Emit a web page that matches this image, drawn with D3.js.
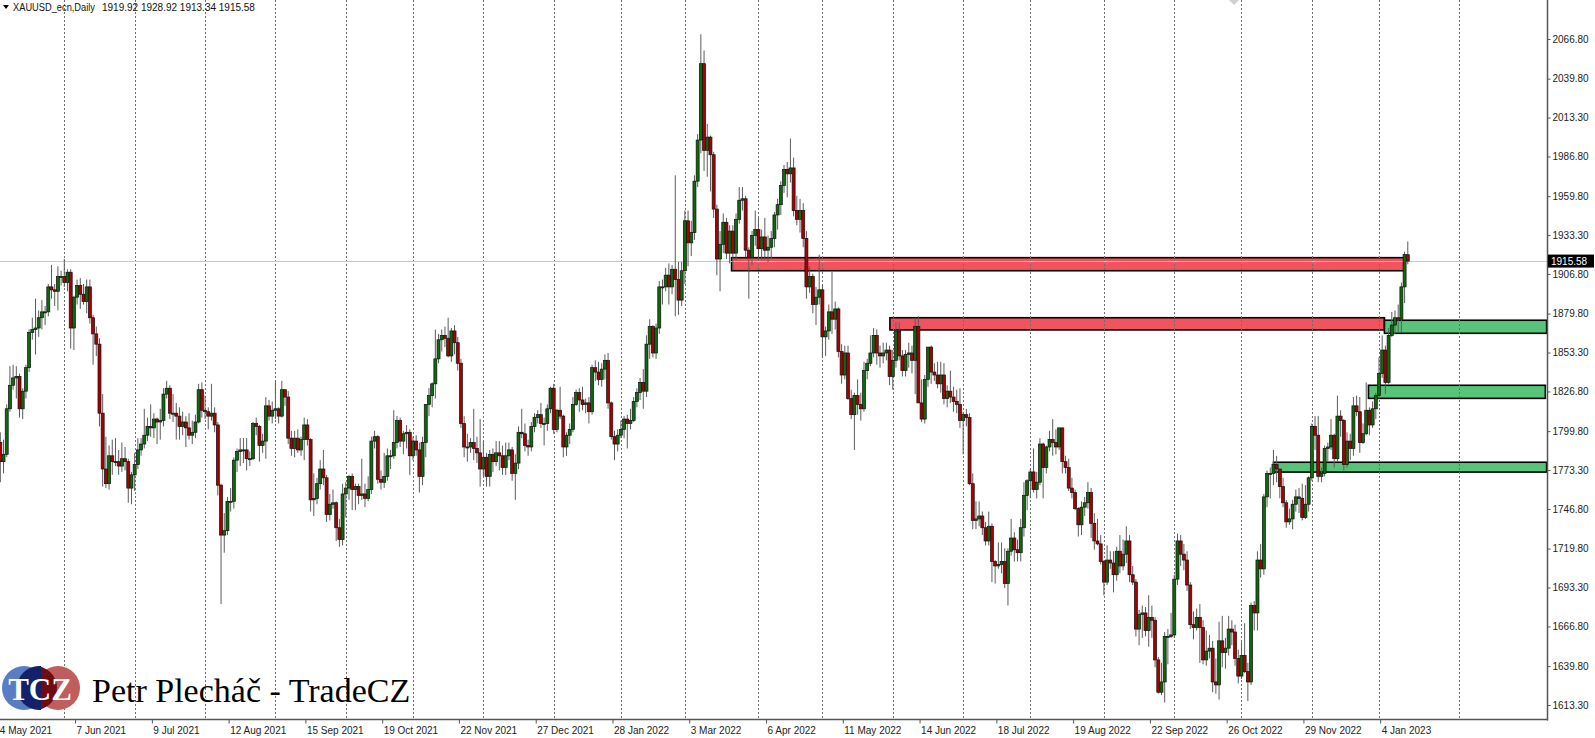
<!DOCTYPE html>
<html><head><meta charset="utf-8">
<script src="https://cdn.jsdelivr.net/npm/d3@7"></script>
<style>
body{margin:0;background:#fff;overflow:hidden}
svg{display:block}
</style>
</head><body>
<svg id="chart" width="1595" height="738"></svg>
<script>
// ---------- DATA: daily candles [open, high, low, close] by month ----------
const may2021=[[1792,1799,1765,1779],[1779,1794,1771,1784],[1784,1818,1782,1815],[1815,1844,1813,1831],[1831,1845,1828,1836],[1836,1844,1822,1837],[1837,1839,1809,1815],[1815,1829,1808,1827],[1827,1845,1822,1843],[1843,1869,1840,1867],[1867,1877,1862,1869],[1869,1890,1852,1870],[1870,1882,1864,1877],[1877,1889,1869,1881],[1881,1885,1872,1881],[1881,1900,1878,1898],[1898,1913,1890,1896],[1896,1900,1885,1895],[1895,1912,1882,1905],[1905,1909,1899,1905]];
const jun2021=[[1905,1917,1898,1901],[1901,1910,1895,1908],[1908,1910,1856,1870],[1870,1892,1855,1891],[1891,1903,1886,1899],[1899,1904,1883,1893],[1893,1900,1886,1888],[1888,1903,1880,1898],[1898,1903,1873,1877],[1877,1879,1845,1866],[1866,1871,1851,1859],[1859,1863,1803,1812],[1812,1825,1762,1774],[1774,1796,1761,1764],[1764,1790,1760,1783],[1783,1794,1770,1779],[1779,1795,1776,1779],[1779,1787,1770,1776],[1776,1792,1772,1781],[1781,1789,1773,1779],[1779,1781,1751,1761],[1761,1772,1750,1770]];
const jul2021=[[1770,1785,1759,1777],[1777,1795,1774,1787],[1787,1795,1783,1791],[1791,1815,1788,1797],[1797,1809,1793,1803],[1803,1818,1796,1802],[1802,1812,1795,1808],[1808,1809,1791,1806],[1806,1815,1794,1807],[1807,1829,1803,1825],[1825,1834,1822,1829],[1829,1831,1808,1812],[1812,1825,1806,1812],[1812,1819,1794,1810],[1810,1816,1794,1803],[1803,1813,1797,1806],[1806,1810,1789,1802],[1802,1812,1794,1797],[1797,1807,1791,1799],[1799,1811,1795,1806],[1806,1832,1805,1828],[1828,1833,1809,1814]];
const aug2021=[[1814,1824,1808,1813],[1813,1816,1801,1810],[1810,1832,1807,1812],[1812,1816,1799,1804],[1804,1806,1756,1763],[1763,1764,1682,1729],[1729,1744,1717,1732],[1732,1755,1729,1752],[1752,1761,1745,1752],[1752,1782,1747,1780],[1780,1788,1772,1786],[1786,1795,1776,1787],[1787,1795,1778,1787],[1787,1795,1773,1781],[1781,1786,1776,1781],[1781,1806,1780,1805],[1805,1809,1797,1803],[1803,1804,1779,1790],[1790,1798,1785,1793],[1793,1823,1781,1817],[1817,1821,1807,1810],[1810,1820,1805,1814]];
const sep2021=[[1814,1834,1808,1815],[1815,1816,1805,1810],[1810,1834,1809,1828],[1828,1828,1817,1823],[1823,1827,1791,1795],[1795,1800,1783,1788],[1788,1800,1782,1795],[1795,1801,1785,1787],[1787,1796,1783,1794],[1794,1809,1780,1804],[1804,1808,1790,1794],[1794,1795,1745,1753],[1753,1771,1742,1754],[1754,1768,1750,1764],[1764,1780,1760,1774],[1774,1787,1763,1768],[1768,1770,1738,1743],[1743,1757,1739,1750],[1750,1760,1747,1751],[1751,1752,1725,1734],[1734,1740,1721,1726],[1726,1764,1722,1757]];
const oct2021=[[1757,1765,1741,1761],[1761,1770,1753,1769],[1769,1771,1746,1760],[1760,1764,1746,1762],[1762,1764,1750,1756],[1756,1781,1753,1757],[1757,1764,1748,1754],[1754,1769,1752,1760],[1760,1796,1757,1793],[1793,1800,1788,1796],[1796,1797,1764,1767],[1767,1773,1760,1765],[1765,1785,1761,1769],[1769,1788,1766,1783],[1783,1787,1774,1783],[1783,1814,1781,1792],[1792,1810,1788,1807],[1807,1809,1789,1793],[1793,1800,1784,1798],[1798,1804,1788,1799],[1799,1801,1770,1783]];
const nov2021=[[1783,1796,1780,1793],[1793,1797,1783,1787],[1787,1792,1758,1769],[1769,1796,1763,1792],[1792,1818,1782,1818],[1818,1829,1810,1824],[1824,1833,1816,1832],[1832,1869,1822,1849],[1849,1866,1846,1862],[1862,1869,1854,1865],[1865,1871,1857,1863],[1863,1877,1850,1851],[1851,1870,1847,1868],[1868,1872,1852,1860],[1860,1864,1841,1846],[1846,1849,1802,1805],[1805,1810,1782,1789],[1789,1798,1779,1789],[1789,1795,1785,1792],[1792,1815,1780,1788],[1788,1796,1778,1785],[1785,1808,1762,1774]];
const dec2021=[[1774,1793,1769,1782],[1782,1785,1762,1769],[1769,1787,1762,1784],[1784,1788,1772,1779],[1779,1793,1776,1785],[1785,1793,1773,1783],[1783,1790,1770,1775],[1775,1792,1770,1783],[1783,1792,1780,1787],[1787,1789,1766,1771],[1771,1784,1753,1778],[1778,1803,1774,1799],[1799,1815,1795,1798],[1798,1805,1786,1790],[1790,1794,1783,1789],[1789,1806,1786,1803],[1803,1812,1799,1809],[1809,1814,1805,1811],[1811,1819,1802,1805],[1805,1809,1790,1805],[1805,1818,1800,1815],[1815,1830,1812,1829]];
const jan2022=[[1829,1832,1798,1801],[1801,1815,1799,1814],[1814,1830,1808,1810],[1810,1811,1782,1789],[1789,1799,1783,1797],[1797,1805,1791,1801],[1801,1823,1799,1818],[1818,1828,1817,1826],[1826,1829,1813,1821],[1821,1830,1814,1818],[1818,1822,1812,1819],[1819,1823,1805,1813],[1813,1845,1811,1843],[1843,1848,1834,1840],[1840,1847,1831,1835],[1835,1846,1830,1842],[1842,1852,1835,1848],[1848,1853,1815,1819],[1819,1820,1794,1796],[1796,1800,1780,1791],[1791,1801,1786,1797]];
const feb2022=[[1797,1807,1795,1801],[1801,1810,1795,1808],[1808,1811,1788,1805],[1805,1815,1801,1807],[1807,1823,1806,1820],[1820,1829,1816,1826],[1826,1836,1821,1833],[1833,1842,1815,1827],[1827,1865,1823,1859],[1859,1876,1849,1871],[1871,1872,1850,1853],[1853,1873,1849,1870],[1870,1902,1866,1898],[1898,1903,1886,1898],[1898,1911,1895,1906],[1906,1914,1886,1898],[1898,1913,1893,1910],[1910,1974,1878,1903],[1903,1915,1879,1889],[1889,1915,1885,1909]];
const mar2022=[[1909,1950,1900,1943],[1943,1950,1912,1928],[1928,1943,1919,1935],[1935,1974,1930,1970],[1970,2002,1966,1998],[1998,2070,1989,2050],[2050,2059,1977,1991],[1991,2009,1973,2000],[2000,2001,1963,1988],[1988,1990,1945,1951],[1951,1954,1906,1917],[1917,1936,1895,1927],[1927,1948,1921,1942],[1942,1945,1917,1921],[1921,1940,1914,1936],[1936,1940,1909,1921],[1921,1948,1916,1944],[1944,1966,1941,1957],[1957,1966,1950,1958],[1958,1960,1918,1923],[1923,1925,1890,1918],[1918,1936,1913,1933],[1933,1950,1926,1937]];
const apr2022=[[1937,1945,1916,1924],[1924,1937,1916,1932],[1932,1945,1916,1923],[1923,1933,1915,1925],[1925,1936,1917,1931],[1931,1949,1925,1947],[1947,1958,1937,1954],[1954,1970,1947,1967],[1967,1981,1962,1978],[1978,1983,1959,1975],[1975,1999,1969,1979],[1979,1986,1946,1950],[1950,1960,1940,1944],[1944,1958,1935,1950],[1950,1955,1925,1931],[1931,1936,1890,1898],[1898,1912,1894,1905],[1905,1907,1880,1886],[1886,1898,1872,1891],[1891,1920,1886,1896]];
const may2022=[[1896,1899,1850,1864],[1864,1871,1851,1868],[1868,1886,1862,1881],[1881,1909,1866,1876],[1876,1888,1869,1883],[1883,1884,1850,1854],[1854,1859,1832,1838],[1838,1858,1835,1853],[1853,1858,1821,1822],[1822,1828,1808,1811],[1811,1826,1787,1824],[1824,1835,1811,1818],[1818,1826,1807,1815],[1815,1847,1813,1841],[1841,1849,1835,1846],[1846,1865,1844,1853],[1853,1870,1850,1865],[1865,1869,1845,1853],[1853,1858,1843,1851],[1851,1860,1846,1853],[1853,1860,1848,1855],[1855,1858,1831,1837]];
const jun2022=[[1837,1855,1828,1848],[1848,1874,1843,1868],[1868,1874,1848,1851],[1851,1855,1837,1841],[1841,1855,1837,1852],[1852,1860,1843,1853],[1853,1858,1839,1848],[1848,1877,1825,1871],[1871,1878,1819,1819],[1819,1835,1806,1808],[1808,1838,1805,1835],[1835,1857,1830,1857],[1857,1858,1832,1840],[1840,1846,1834,1838],[1838,1847,1829,1832],[1832,1847,1826,1838],[1838,1846,1818,1822],[1822,1831,1816,1827],[1827,1841,1819,1823],[1823,1830,1813,1820],[1820,1828,1812,1818],[1818,1829,1802,1807]];
const jul2022=[[1807,1813,1784,1811],[1811,1815,1803,1809],[1809,1812,1763,1764],[1764,1771,1733,1739],[1739,1752,1733,1740],[1740,1752,1735,1742],[1742,1745,1729,1734],[1734,1738,1722,1725],[1725,1745,1722,1735],[1735,1737,1697,1711],[1711,1712,1696,1708],[1708,1724,1706,1709],[1709,1724,1703,1711],[1711,1720,1693,1696],[1696,1720,1681,1718],[1718,1740,1715,1727],[1727,1731,1711,1719],[1719,1726,1711,1717],[1717,1740,1711,1734],[1734,1765,1728,1756],[1756,1767,1746,1766]];
const aug2022=[[1766,1774,1754,1772],[1772,1788,1758,1760],[1760,1772,1754,1765],[1765,1795,1763,1791],[1791,1792,1754,1775],[1775,1790,1771,1789],[1789,1800,1786,1794],[1794,1808,1783,1792],[1792,1801,1784,1789],[1789,1802,1787,1802],[1802,1802,1771,1779],[1779,1783,1771,1775],[1775,1781,1759,1761],[1761,1768,1754,1758],[1758,1760,1746,1747],[1747,1748,1728,1736],[1736,1752,1729,1748],[1748,1755,1742,1751],[1751,1765,1747,1758],[1758,1761,1727,1737],[1737,1744,1719,1725],[1725,1740,1722,1723],[1723,1729,1709,1711]];
const sep2022=[[1711,1712,1688,1697],[1697,1722,1695,1712],[1712,1718,1706,1710],[1710,1718,1690,1702],[1702,1721,1698,1718],[1718,1729,1703,1708],[1708,1726,1705,1716],[1716,1735,1710,1725],[1725,1729,1697,1702],[1702,1708,1695,1697],[1697,1699,1660,1665],[1665,1678,1654,1675],[1675,1681,1659,1676],[1676,1680,1660,1664],[1664,1688,1653,1673],[1673,1681,1659,1671],[1671,1673,1639,1644],[1644,1646,1621,1622],[1622,1642,1620,1629],[1629,1663,1615,1660],[1660,1665,1641,1660],[1660,1676,1659,1661]];
const oct2022=[[1661,1702,1659,1699],[1699,1730,1695,1725],[1725,1729,1708,1716],[1716,1723,1705,1712],[1712,1718,1691,1695],[1695,1697,1665,1668],[1668,1677,1658,1666],[1666,1679,1664,1673],[1673,1682,1642,1666],[1666,1671,1641,1644],[1644,1664,1640,1650],[1650,1661,1645,1652],[1652,1657,1622,1629],[1629,1645,1621,1627],[1627,1670,1617,1657],[1657,1674,1639,1649],[1649,1659,1638,1652],[1652,1674,1647,1665],[1665,1671,1654,1663],[1663,1668,1640,1645],[1645,1651,1628,1633]];
const nov2022=[[1633,1656,1631,1647],[1647,1669,1635,1636],[1636,1642,1616,1629],[1629,1683,1627,1681],[1681,1684,1664,1676],[1676,1718,1664,1712],[1712,1723,1700,1706],[1706,1757,1702,1755],[1755,1773,1748,1771],[1771,1775,1754,1771],[1771,1787,1763,1777],[1777,1783,1765,1774],[1774,1774,1754,1762],[1762,1768,1748,1751],[1751,1753,1734,1738],[1738,1747,1736,1740],[1740,1753,1733,1750],[1750,1760,1745,1755],[1755,1761,1744,1754],[1754,1764,1739,1741],[1741,1763,1740,1750],[1750,1769,1745,1768]];
const dec2022=[[1768,1805,1766,1803],[1803,1810,1787,1797],[1797,1810,1765,1769],[1769,1775,1765,1771],[1771,1790,1769,1788],[1788,1792,1779,1789],[1789,1808,1787,1797],[1797,1798,1775,1781],[1781,1824,1779,1810],[1810,1814,1796,1807],[1807,1808,1773,1777],[1777,1799,1775,1793],[1793,1798,1780,1788],[1788,1823,1783,1817],[1817,1824,1810,1813],[1813,1823,1785,1792],[1792,1805,1791,1798],[1798,1833,1797,1814],[1814,1816,1797,1804],[1804,1820,1802,1815],[1815,1826,1808,1824]];
const jan2023=[[1824,1850,1822,1839],[1839,1865,1836,1855],[1855,1858,1825,1833],[1833,1870,1832,1865],[1865,1881,1864,1872],[1872,1882,1866,1877],[1877,1886,1867,1876],[1876,1901,1867,1898],[1898,1922,1887,1920],[1919.92,1928.92,1913.34,1915.58]];

const months=[may2021,jun2021,jul2021,aug2021,sep2021,oct2021,nov2021,dec2021,jan2022,feb2022,mar2022,apr2022,may2022,jun2022,jul2022,aug2022,sep2022,oct2022,nov2022,dec2022,jan2023];
// bar index of the Feb 2023 month grid line (future area)
const futureMonthStarts=[456];

const timeLabels=["4 May 2021","7 Jun 2021","9 Jul 2021","12 Aug 2021","15 Sep 2021","19 Oct 2021","22 Nov 2021","27 Dec 2021","28 Jan 2022","3 Mar 2022","6 Apr 2022","11 May 2022","14 Jun 2022","18 Jul 2022","19 Aug 2022","22 Sep 2022","26 Oct 2022","29 Nov 2022","4 Jan 2023"];
const labelEvery=24;
const priceTicks=[2066.80,2039.80,2013.30,1986.80,1959.80,1933.30,1906.80,1879.80,1853.30,1826.80,1799.80,1773.30,1746.80,1719.80,1693.30,1666.80,1639.80,1613.30];

// zones: [startBar, endBar, topPrice, bottomPrice]
const supplyZones=[[228.6,438.9,1917.9,1909.0],[278.1,432.7,1877.0,1868.7]];
const demandZones=[[432.7,483.4,1875.3,1866.4],[427.7,483.0,1831.0,1822.1],[398.0,483.4,1778.6,1771.9]];

const symbolName="XAUUSD_ecn,Daily";
const brandName="Petr Plecháč - TradeCZ";
const logoText="TCZ";

// ---------- BUILD ----------
const candles=[].concat(...months);
const monthStarts=[];
{let k=0; months.forEach((m,j)=>{ if(j>0) monthStarts.push(k); k+=m.length; });}
const last=candles[candles.length-1];

const W=1595,H=738, plotR=1547, plotB=719.5;
const svg=d3.select("#chart");
const x=d3.scaleLinear().domain([0,440]).range([0.32,0.32+440*3.1988]);
const y=d3.scaleLinear().domain([1613.3,2066.8]).range([705,39]);
const FONT="Liberation Sans, Arial, sans-serif";

svg.append("rect").attr("width",W).attr("height",H).attr("fill","#fff");

// zones (background objects)
const zoneG=svg.append("g");
function drawZones(arr,fill){
  zoneG.selectAll(null).data(arr).enter().append("rect")
    .attr("x",d=>x(d[0])).attr("y",d=>y(d[2]))
    .attr("width",d=>x(d[1])-x(d[0])).attr("height",d=>y(d[3])-y(d[2]))
    .attr("fill",fill).attr("stroke","#000").attr("stroke-width",1.6);
}
drawZones(supplyZones,"#f2545f");
drawZones(demandZones,"#58c47a");

// grid (month starts)
svg.append("g").selectAll("line").data(monthStarts.concat(futureMonthStarts)).enter().append("line")
  .attr("x1",d=>Math.round(x(d))+0.5).attr("x2",d=>Math.round(x(d))+0.5)
  .attr("y1",0).attr("y2",plotB)
  .attr("stroke","#6e6e6e").attr("stroke-width",1).attr("stroke-dasharray","2,2");

// bid line
svg.append("line").attr("x1",0).attr("x2",plotR).attr("y1",Math.round(y(last[3]))+0.5).attr("y2",Math.round(y(last[3]))+0.5)
  .attr("stroke","#c8c8c8").attr("stroke-width",1);

// candles
const cg=svg.append("g");
cg.selectAll("line").data(candles).enter().append("line")
  .attr("x1",(d,i)=>x(i)).attr("x2",(d,i)=>x(i))
  .attr("y1",d=>y(d[1])).attr("y2",d=>y(d[2]))
  .attr("stroke","#5c5c5c").attr("stroke-width",1);
cg.selectAll("rect").data(candles).enter().append("rect")
  .attr("x",(d,i)=>x(i)-1.5).attr("width",3)
  .attr("y",d=>y(Math.max(d[0],d[3])))
  .attr("height",d=>Math.max(1,Math.abs(y(d[0])-y(d[3]))))
  .attr("fill",d=>d[3]>=d[0]?"#0b6a0b":"#a80000")
  .attr("stroke","#111").attr("stroke-width",0.7);

// axes frame
svg.append("line").attr("x1",plotR+0.5).attr("x2",plotR+0.5).attr("y1",0).attr("y2",plotB+1).attr("stroke","#555").attr("stroke-width",1.5);
svg.append("line").attr("x1",0).attr("x2",plotR+1).attr("y1",plotB).attr("y2",plotB).attr("stroke","#555").attr("stroke-width",1.5);

// price axis
const ya=svg.append("g").attr("transform",`translate(${plotR+0.5},0)`)
  .call(d3.axisRight(y).tickValues(priceTicks).tickSize(3).tickPadding(2).tickFormat(d3.format(".2f")));
ya.select(".domain").remove();
ya.selectAll("line").attr("stroke","#555");
ya.selectAll("text").attr("font-family",FONT).attr("font-size",10).attr("fill","#222");

// time axis
const labelIdx=timeLabels.map((t,i)=>i*labelEvery);
const xa=svg.append("g").attr("transform",`translate(0,${plotB})`)
  .call(d3.axisBottom(x).tickValues(labelIdx).tickSize(4).tickFormat((d,i)=>timeLabels[i]));
xa.select(".domain").remove();
xa.selectAll(".tick line").attr("stroke","#555").attr("transform","translate(-2,0)");
xa.selectAll("text").attr("font-family",FONT).attr("font-size",10).attr("fill","#222")
  .attr("text-anchor","start").attr("dx",-1).attr("dy","0.72em").attr("y",7);

// current price label
const py=y(last[3]);
svg.append("rect").attr("x",plotR+1).attr("y",py-6.5).attr("width",46).attr("height",13).attr("fill","#000");
svg.append("text").attr("x",plotR+4).attr("y",py+3.8).attr("fill","#fff")
  .attr("font-family",FONT).attr("font-size",10).text(d3.format(".2f")(last[3]));

// header
svg.append("path").attr("d","M3,5 L9,5 L6,9 Z").attr("fill","#000");
svg.append("text").attr("x",13).attr("y",10.5).attr("font-family",FONT).attr("font-size",10).attr("fill","#111")
  .attr("textLength",82).attr("lengthAdjust","spacingAndGlyphs").text(symbolName);
svg.append("text").attr("x",102).attr("y",10.5).attr("font-family",FONT).attr("font-size",10).attr("fill","#111")
  .text(last.map(v=>d3.format(".2f")(v)).join(" "));

// chart shift marker
svg.append("path").attr("d","M1229,0 L1239,0 L1234,5 Z").attr("fill","#d0d0d0");

// logo
const lg=svg.append("g");
const defs=svg.append("defs");
defs.append("clipPath").attr("id","cl").append("rect").attr("x",0).attr("y",600).attr("width",41).attr("height",138);
defs.append("clipPath").attr("id","cr").append("rect").attr("x",41).attr("y",600).attr("width",60).attr("height",138);
lg.append("circle").attr("cx",24).attr("cy",688).attr("r",22).attr("fill","#5a7cc4");
lg.append("circle").attr("cx",58).attr("cy",688).attr("r",22).attr("fill","#c05d5d");
lg.append("circle").attr("cx",39).attr("cy",688).attr("r",22).attr("fill","#14206a").attr("clip-path","url(#cl)");
lg.append("circle").attr("cx",35).attr("cy",688).attr("r",22).attr("fill","#6e0c14").attr("clip-path","url(#cr)");
lg.append("text").attr("x",40).attr("y",700).attr("text-anchor","middle")
  .attr("font-family","Liberation Serif, DejaVu Serif, serif").attr("font-weight","bold").attr("font-size",31).attr("fill","#fff").text(logoText);
svg.append("text").attr("x",92).attr("y",701.5)
  .attr("font-family","Liberation Serif, DejaVu Serif, serif").attr("font-size",34).attr("fill","#000").text(brandName);
</script>
</body></html>
